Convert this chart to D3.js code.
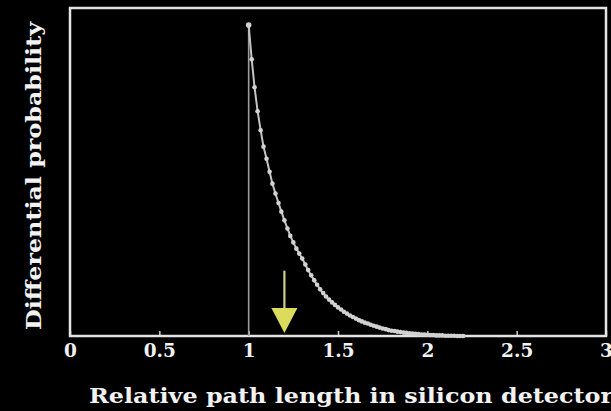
<!DOCTYPE html>
<html>
<head>
<meta charset="utf-8">
<script src="https://cdn.jsdelivr.net/npm/d3@7"></script>
<style>
  html, body { margin: 0; padding: 0; background: #000; overflow: hidden; }
  text { font-family: "DejaVu Serif", "Liberation Serif", serif; fill: #f2f2f2; }
</style>
</head>
<body>
<svg id="chart" width="611" height="411"></svg>
<script>
// Axis ticks
const xTicks = [0, 0.5, 1, 1.5, 2, 2.5, 3];
const xTickLabels = ["0", "0.5", "1", "1.5", "2", "2.5", "3"];

// Relative path length (L / thickness) and the differential probability at each sample
const pathLength = [
  1.000, 1.017, 1.033, 1.050, 1.067, 1.083, 1.100, 1.117, 1.133, 1.150,
  1.167, 1.183, 1.200, 1.217, 1.233, 1.250, 1.267, 1.283, 1.300, 1.317,
  1.333, 1.350, 1.367, 1.383, 1.400, 1.417, 1.433, 1.450, 1.467, 1.483,
  1.500, 1.517, 1.533, 1.550, 1.567, 1.583, 1.600, 1.617, 1.633, 1.650,
  1.667, 1.683, 1.700, 1.717, 1.733, 1.750, 1.767, 1.783, 1.800, 1.817,
  1.833, 1.850, 1.867, 1.883, 1.900, 1.917, 1.933, 1.950, 1.967, 1.983,
  2.000, 2.017, 2.033, 2.050, 2.067, 2.083, 2.100, 2.117, 2.133, 2.150,
  2.167, 2.183, 2.200
];
const probability = [
  1.000, 0.890, 0.800, 0.723, 0.662, 0.609, 0.570, 0.528, 0.490, 0.458,
  0.428, 0.400, 0.372, 0.346, 0.322, 0.301, 0.281, 0.265, 0.249, 0.230,
  0.212, 0.195, 0.179, 0.165, 0.150, 0.138, 0.127, 0.117, 0.108, 0.100,
  0.092, 0.085, 0.078, 0.072, 0.066, 0.061, 0.056, 0.051, 0.047, 0.043,
  0.040, 0.036, 0.033, 0.030, 0.027, 0.024, 0.022, 0.019, 0.017, 0.016,
  0.014, 0.013, 0.011, 0.010, 0.009, 0.008, 0.007, 0.006, 0.005, 0.005,
  0.004, 0.003, 0.003, 0.002, 0.002, 0.002, 0.001, 0.001, 0.001, 0.001,
  0.000, 0.000, 0.000
];

// Arrow marker position on the path-length axis
const arrowAt = 1.2;

const xTitle = "Relative path length in silicon detector";
const yTitle = "Differential probability";

const svg = d3.select("#chart");
svg.append("rect").attr("width", 611).attr("height", 411).attr("fill", "#000");

const plot = { left: 70, right: 606, top: 8, bottom: 336 };
const x = d3.scaleLinear().domain([0, 3]).range([plot.left, plot.right]);
const y = d3.scaleLinear().domain([0, 1.055]).range([plot.bottom, plot.top]);

// Bottom axis: short ticks pointing up into the plot
const xAxis = d3.axisBottom(x)
  .tickValues(xTicks)
  .tickFormat((d, i) => xTickLabels[i])
  .tickSizeInner(-5)
  .tickSizeOuter(0)
  .tickPadding(8);

const gx = svg.append("g")
  .attr("transform", `translate(0,${plot.bottom})`)
  .call(xAxis);
gx.select(".domain").remove();
gx.selectAll(".tick line").attr("stroke", "#cfcfcf").attr("stroke-width", 1.5);
gx.selectAll(".tick text")
  .attr("fill", "#f2f2f2")
  .style("font-family", "'DejaVu Serif', serif")
  .style("font-size", "18.5px")
  .style("font-weight", "bold");

// Frame
svg.append("rect")
  .attr("x", plot.left).attr("y", plot.top)
  .attr("width", plot.right - plot.left).attr("height", plot.bottom - plot.top)
  .attr("fill", "none").attr("stroke", "#e4e4e4").attr("stroke-width", 2.5);

// Vertical edge at L = 1
svg.append("line")
  .attr("x1", x(pathLength[0])).attr("x2", x(pathLength[0]))
  .attr("y1", y(0)).attr("y2", y(probability[0]))
  .attr("stroke", "#9c9c9c").attr("stroke-width", 1.6);

const pts = pathLength.map((L, i) => [L, probability[i]]);

// Connecting curve
svg.append("path")
  .datum(pts)
  .attr("fill", "none")
  .attr("stroke", "#c4c4c4")
  .attr("stroke-width", 2)
  .attr("d", d3.line().x(d => x(d[0])).y(d => y(d[1])));

// Sample points
svg.append("g").selectAll("circle")
  .data(pts)
  .join("circle")
  .attr("cx", d => x(d[0]))
  .attr("cy", d => y(d[1]))
  .attr("r", (d, i) => i === 0 ? 2.8 : 2.3)
  .attr("fill", "#d2d2d2");

// Yellow arrow pointing down to the axis
const ax = x(arrowAt);
const tipY = y(0) - 3;
svg.append("line")
  .attr("x1", ax).attr("x2", ax)
  .attr("y1", y(0.21)).attr("y2", y(0.09))
  .attr("stroke", "#cfcf8c").attr("stroke-width", 2.2);
svg.append("path")
  .attr("d", `M${ax - 13},${y(0.09)} L${ax + 13},${y(0.09)} L${ax},${tipY} Z`)
  .attr("fill", "#dcdc5c");

// Axis titles
svg.append("text")
  .attr("x", 89).attr("y", 403)
  .attr("textLength", 524).attr("lengthAdjust", "spacingAndGlyphs")
  .style("font-size", "21px")
  .style("font-weight", "bold")
  .text(xTitle);

svg.append("text")
  .attr("transform", "translate(41,176) rotate(-90)")
  .attr("text-anchor", "middle")
  .attr("textLength", 308).attr("lengthAdjust", "spacingAndGlyphs")
  .style("font-size", "21px")
  .style("font-weight", "bold")
  .text(yTitle);
</script>
</body>
</html>
